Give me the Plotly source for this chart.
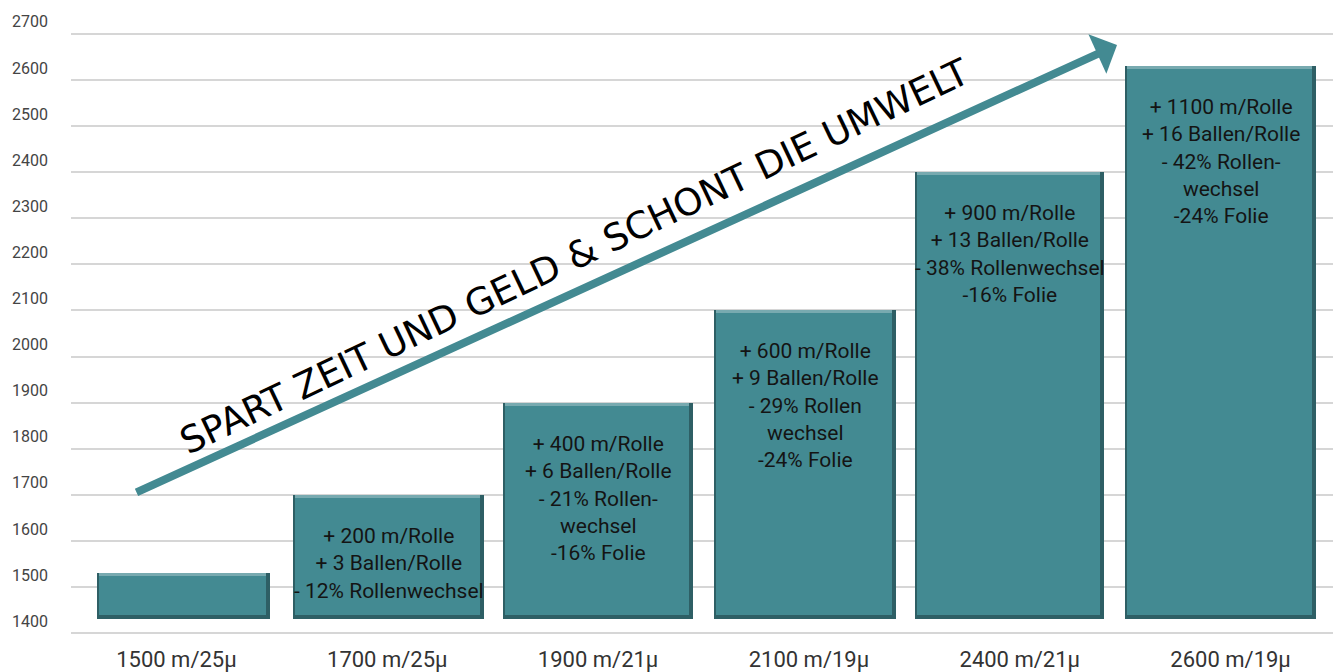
import plotly.graph_objects as go

# ---------------- data ----------------
categories = ["1500 m/25μ", "1700 m/25μ", "1900 m/21μ", "2100 m/19μ", "2400 m/21μ", "2600 m/19μ"]
values = [1530, 1700, 1900, 2100, 2400, 2630]
bar_base = 1431
bar_notes = [
    "",
    "+ 200 m/Rolle<br>+ 3 Ballen/Rolle<br>- 12% Rollenwechsel",
    "+ 400 m/Rolle<br>+ 6 Ballen/Rolle<br>- 21% Rollen-<br>wechsel<br>-16% Folie",
    "+ 600 m/Rolle<br>+ 9 Ballen/Rolle<br>- 29% Rollen<br>wechsel<br>-24% Folie",
    "+ 900 m/Rolle<br>+ 13 Ballen/Rolle<br>- 38% Rollenwechsel<br>-16% Folie",
    "+ 1100 m/Rolle<br>+ 16 Ballen/Rolle<br>- 42% Rollen-<br>wechsel<br>-24% Folie",
]
y_ticks = list(range(1400, 2800, 100))
headline = "SPART ZEIT UND GELD & SCHONT DIE UMWELT"

# ---------------- style ----------------
W, H = 1341, 672
M_L, M_R, M_T, M_B = 63, 13, 24, 45
bar_widths = [0.82, 0.905, 0.905, 0.865, 0.895, 0.905]
bar_shifts = [0.034, 0.006, 0.0, -0.018, -0.048, -0.047]
plot_w = W - M_L - M_R
plot_h = H - M_T - M_B
y_min, y_max = 1396, 2704
px_x = 1.0 / (plot_w / len(categories))      # category units per pixel
px_y = (y_max - y_min) / plot_h               # data units per pixel

TEAL = "#438a92"
DARK = "#2e5f65"
LIGHT = "#78aab0"

fig = go.Figure()

# shadow layer (full bar extents)
fig.add_trace(go.Bar(
    x=categories,
    y=[v - bar_base for v in values],
    base=bar_base,
    width=bar_widths,
    offset=[s - w / 2 for s, w in zip(bar_shifts, bar_widths)],
    marker=dict(color=DARK, line=dict(width=0)),
    hoverinfo="skip",
    showlegend=False,
))
# main face
main_base = bar_base + 4 * px_y
fig.add_trace(go.Bar(
    x=categories,
    y=[v - main_base for v in values],
    base=main_base,
    width=[w - 6 * px_x for w in bar_widths],
    offset=[s - w / 2 + 2 * px_x for s, w in zip(bar_shifts, bar_widths)],
    marker=dict(color=TEAL, line=dict(width=0)),
    hoverinfo="skip",
    showlegend=False,
))
# light top edge
fig.add_trace(go.Bar(
    x=categories,
    y=[3 * px_y for v in values],
    base=[v - 3 * px_y for v in values],
    width=[w - 6 * px_x for w in bar_widths],
    offset=[s - w / 2 + 2 * px_x for s, w in zip(bar_shifts, bar_widths)],
    marker=dict(color=LIGHT, line=dict(width=0)),
    hoverinfo="skip",
    showlegend=False,
))

annotations = []
for cat, v, note, s in zip(categories, values, bar_notes, bar_shifts):
    if not note:
        continue
    annotations.append(dict(
        x=cat, y=v, xref="x", yref="y",
        text=note, showarrow=False,
        xanchor="center", yanchor="top", yshift=-27, xshift=s / px_x,
        font=dict(family="Roboto", size=21, color="#141414"),
        align="center",
    ))

# arrow
annotations.append(dict(
    x=0.8269, y=0.9784, xref="x domain", yref="y domain",
    ax=0.0506, ay=0.2355, axref="x domain", ayref="y domain",
    showarrow=True, arrowhead=1, arrowsize=0.9, arrowwidth=8,
    arrowcolor=TEAL, standoff=0, text="",
))
# headline along arrow
annotations.append(dict(
    x=0.3984, y=0.6285, xref="x domain", yref="y domain",
    text=headline, showarrow=False, textangle=-25.5,
    xanchor="center", yanchor="middle",
    font=dict(family="DejaVu Sans", size=37, color="#000000"),
))

fig.update_layout(
    width=W, height=H,
    margin=dict(l=M_L, r=M_R, t=M_T, b=M_B, pad=0),
    paper_bgcolor="white", plot_bgcolor="white",
    barmode="overlay",
    bargap=0,
    annotations=annotations,
    showlegend=False,
)
fig.update_xaxes(
    type="category",
    showgrid=False, zeroline=False, showline=False,
    ticks="", ticklabelstandoff=9,
    tickfont=dict(family="Roboto", size=22, color="#333333"),
    automargin=False,
)
fig.update_yaxes(
    range=[y_min, y_max],
    tickvals=y_ticks,
    ticktext=[str(t) for t in y_ticks],
    showgrid=True, gridcolor="#d6d6d6", gridwidth=1.5,
    zeroline=False, showline=False, ticks="",
    ticklabelshift=-12, ticklabelstandoff=22,
    tickfont=dict(family="Roboto", size=16, color="#444444"),
    automargin=False,
)

fig.write_html("out.html")
